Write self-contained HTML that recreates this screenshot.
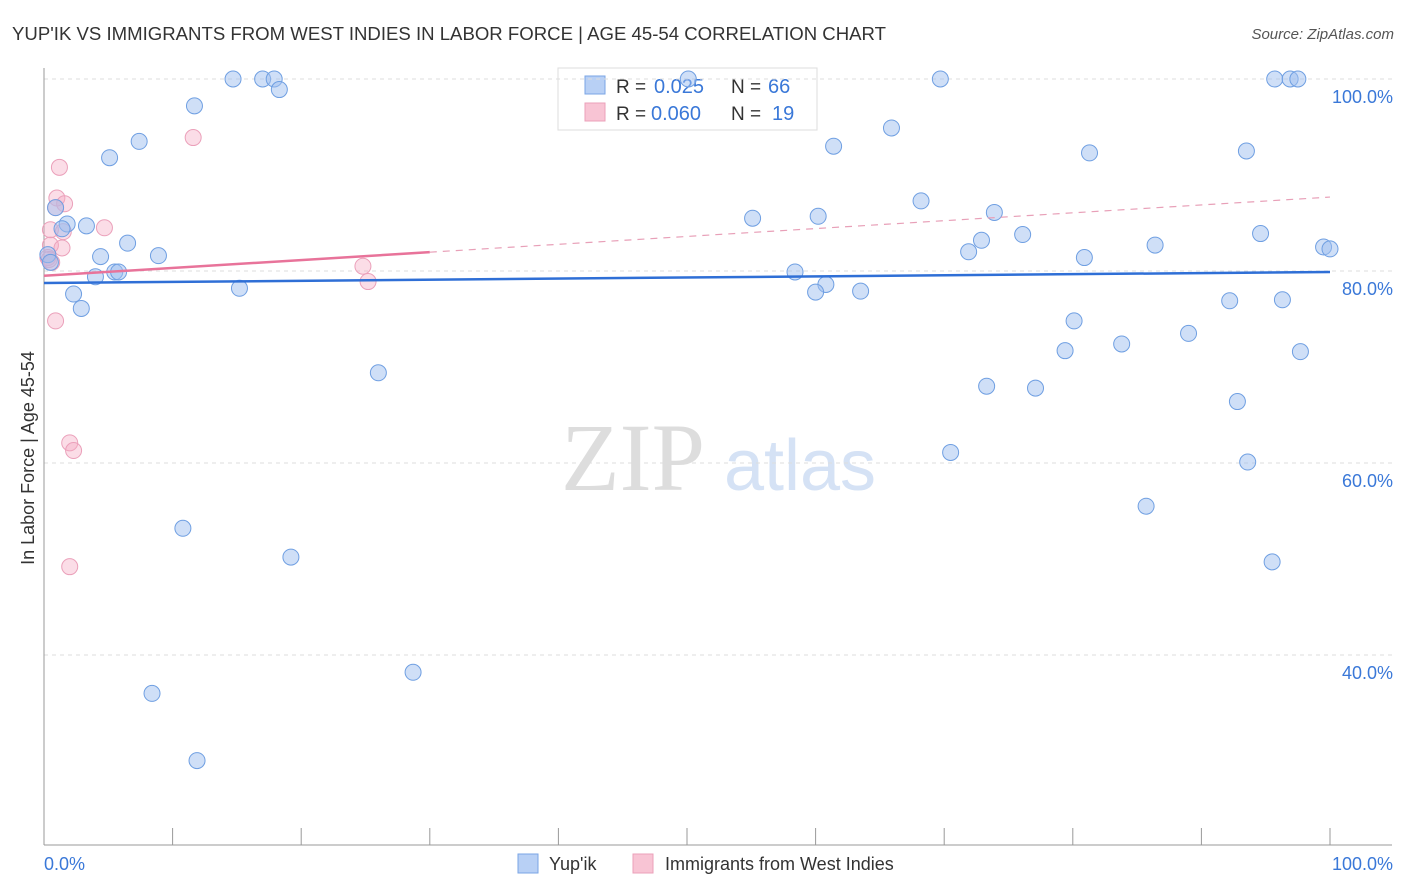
<!DOCTYPE html>
<html><head><meta charset="utf-8"><style>
body{margin:0;background:#fff;font-family:"Liberation Sans",sans-serif;}
svg{display:block}
</style></head><body>
<svg id="chart" width="1406" height="892">
<text x="12" y="40" font-size="18" fill="#333" textLength="874" lengthAdjust="spacingAndGlyphs">YUP'IK VS IMMIGRANTS FROM WEST INDIES IN LABOR FORCE | AGE 45-54 CORRELATION CHART</text>
<text x="1394" y="39" font-size="15" fill="#555" font-style="italic" text-anchor="end">Source: ZipAtlas.com</text>
<text x="34" y="458" font-size="18" fill="#333" text-anchor="middle" transform="rotate(-90 34 458)">In Labor Force | Age 45-54</text>
<g><text x="633" y="490" font-size="96" fill="#ddd" font-family="Liberation Serif,serif" text-anchor="middle">ZIP</text><text x="800" y="490" font-size="72" fill="#d5e2f5" text-anchor="middle">atlas</text></g>
<g>
<rect x="558" y="68" width="259" height="62" fill="#fff" stroke="#ddd"/>
<rect x="585" y="76" width="20" height="18" fill="#b8d0f5" stroke="#7aa5e5"/>
<text x="616" y="93" font-size="19" fill="#333">R =</text><text x="654" y="93" font-size="20" fill="#3a78d8">0.025</text>
<text x="731" y="93" font-size="19" fill="#333">N =</text><text x="768" y="93" font-size="20" fill="#3a78d8">66</text>
<rect x="585" y="103" width="20" height="18" fill="#f8c4d4" stroke="#eba0ba"/>
<text x="616" y="120" font-size="19" fill="#333">R =</text><text x="651" y="120" font-size="20" fill="#3a78d8">0.060</text>
<text x="731" y="120" font-size="19" fill="#333">N =</text><text x="772" y="120" font-size="20" fill="#3a78d8">19</text>
</g>
<g id="grid"></g><g id="marks"></g>
<g>
<rect x="518" y="854" width="20" height="19" fill="#b8d0f5" stroke="#7aa5e5"/>
<text x="549" y="870" font-size="18" fill="#333">Yup'ik</text>
<rect x="633" y="854" width="20" height="19" fill="#f8c4d4" stroke="#eba0ba"/>
<text x="665" y="870" font-size="18" fill="#333">Immigrants from West Indies</text>
</g>
</svg>
<script>
const yTicks=[100,80,60,40];
const yTickLabels=["100.0%","80.0%","60.0%","40.0%"];
const xTicks=[0,10,20,30,40,50,60,70,80,90,100];
const blueX=[14.7,17.0,17.9,18.3,11.7,7.4,5.1,0.9,3.3,1.8,1.4,6.5,4.4,8.9,4.0,5.5,5.8,2.3,2.9,15.2,26.0,10.8,19.2,8.4,28.7,11.9,50.1,69.7,95.7,96.9,97.5,61.4,65.9,81.3,93.5,68.2,55.1,60.2,73.9,76.1,72.9,71.9,86.4,94.6,80.9,99.5,100,58.4,60.8,60.0,63.5,80.1,79.4,83.8,89.0,92.2,96.3,97.7,73.3,77.1,92.8,70.5,93.6,85.7,95.5,0.3,0.5];
const blueY=[100,100,100,98.9,97.2,93.5,91.8,86.6,84.7,84.9,84.4,82.9,81.5,81.6,79.4,79.9,79.9,77.6,76.1,78.2,69.4,53.2,50.2,36.0,38.2,29.0,100,100,100,100,100,93.0,94.9,92.3,92.5,87.3,85.5,85.7,86.1,83.8,83.2,82.0,82.7,83.9,81.4,82.5,82.3,79.9,78.6,77.8,77.9,74.8,71.7,72.4,73.5,76.9,77.0,71.6,68.0,67.8,66.4,61.1,60.1,55.5,49.7,81.7,80.9];
const pinkX=[1.2,11.6,1.0,1.6,0.9,4.7,0.5,1.5,0.5,1.4,0.3,0.6,24.8,25.2,0.9,2.0,2.3,2.0,0.4];
const pinkY=[90.8,93.9,87.6,87.0,86.6,84.5,84.3,84.1,82.7,82.4,81.4,80.9,80.5,78.9,74.8,62.1,61.3,49.2,81.2];
const blueTrend=[78.75,79.9];
const pinkTrend=[79.5,87.7];
const NS="http://www.w3.org/2000/svg";
const sx=v=>44+v*12.86, sy=v=>79+(100-v)*9.6;
function mk(t,a,p){const e=document.createElementNS(NS,t);for(const k in a)e.setAttribute(k,a[k]);p.appendChild(e);return e;}
const grid=document.getElementById('grid'),marks=document.getElementById('marks');
yTicks.forEach((t,i)=>{
 const l=mk('line',{x1:44,x2:1392,y1:sy(t),y2:sy(t),stroke:'#ddd','stroke-dasharray':'4 4'},grid);
 
 
 const tx=mk('text',{x:1393,y:sy(t)+24,'font-size':18,fill:'#3a78d8','text-anchor':'end'},grid);tx.textContent=yTickLabels[i];
 
 
});
mk('line',{x1:44,x2:44,y1:68,y2:845,stroke:'#999'},grid);
mk('line',{x1:44,x2:1392,y1:845,y2:845,stroke:'#999'},grid);
xTicks.forEach(t=>{const l=mk('line',{x1:sx(t),x2:sx(t),y1:828,y2:845,stroke:'#999'},grid);
 
 });
let a=mk('text',{x:44,y:870,'font-size':18,fill:'#3a78d8'},grid);a.textContent='0.0%';


a=mk('text',{x:1393,y:870,'font-size':18,fill:'#3a78d8','text-anchor':'end'},grid);a.textContent='100.0%';


pinkX.forEach((x,i)=>{const c=mk('circle',{cx:sx(x),cy:sy(pinkY[i]),r:8,fill:'rgba(246,170,196,0.4)',stroke:'#eba0ba','stroke-width':1},marks);
 
 });
blueX.forEach((x,i)=>{const c=mk('circle',{cx:sx(x),cy:sy(blueY[i]),r:8,fill:'rgba(160,192,240,0.5)',stroke:'#6f9fe2','stroke-width':1},marks);
 
 });
let t=mk('line',{x1:sx(0),x2:sx(100),y1:sy(blueTrend[0]),y2:sy(blueTrend[1]),stroke:'#2f6fd6','stroke-width':2.5},marks);


const pAt=v=>pinkTrend[0]+(pinkTrend[1]-pinkTrend[0])*v/100;
t=mk('line',{x1:sx(0),x2:sx(30),y1:sy(pAt(0)),y2:sy(pAt(30)),stroke:'#e8739a','stroke-width':2.5},marks);


t=mk('line',{x1:sx(30),x2:sx(100),y1:sy(pAt(30)),y2:sy(pAt(100)),stroke:'#e8a0b8','stroke-width':1.2,'stroke-dasharray':'7 6'},marks);


</script>
</body></html>
